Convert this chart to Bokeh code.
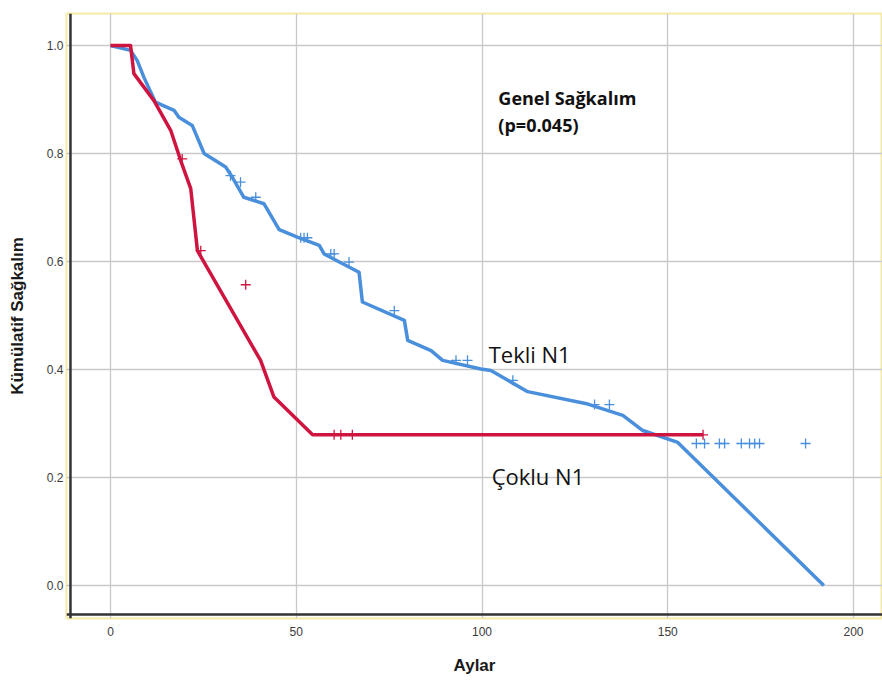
from bokeh.plotting import figure
from bokeh.models import Range1d, FixedTicker, NumeralTickFormatter, Span, Label
from bokeh.embed import file_html
from bokeh.resources import INLINE

# ---- data ----
tekli_months = [0, 5.4, 7.2, 9.0, 12.1, 17.1, 18.4, 22.0, 25.2, 31.0, 32.8, 35.9, 41.3, 45.4,
                50.3, 56.2, 57.5, 61.6, 66.9, 67.8, 79.1, 80.0, 86.3, 89.4, 99.7, 102.4,
                112.3, 128.5, 137.9, 143.3, 152.7, 192.0]
tekli_surv = [1.0, 0.991, 0.972, 0.941, 0.895, 0.880, 0.867, 0.852, 0.800, 0.775, 0.756, 0.719,
              0.707, 0.659, 0.645, 0.630, 0.614, 0.599, 0.580, 0.525, 0.491, 0.454, 0.435,
              0.417, 0.401, 0.398, 0.359, 0.336, 0.315, 0.287, 0.265, 0.0]
tekli_cens_months = [32.3, 35.0, 39.1, 51.2, 52.1, 53.0, 59.3, 60.2, 64.2, 76.4, 93.0, 96.1,
                     108.3, 130.3, 134.3, 157.7, 159.9, 163.9, 165.3, 169.8, 172.0, 173.4,
                     174.7, 187.1]
tekli_cens_surv = [0.759, 0.747, 0.719, 0.644, 0.644, 0.644, 0.614, 0.614, 0.599, 0.509, 0.417,
                   0.417, 0.380, 0.335, 0.335, 0.263, 0.263, 0.263, 0.263, 0.263, 0.263, 0.263,
                   0.263, 0.263]

coklu_months = [0, 5.4, 6.3, 11.7, 16.2, 18.9, 21.6, 23.4, 40.4, 44.0, 54.4, 159.5]
coklu_surv = [1.0, 1.0, 0.948, 0.898, 0.843, 0.787, 0.735, 0.620, 0.417, 0.349, 0.279, 0.279]
coklu_cens_months = [19.3, 24.3, 36.4, 60.2, 62.0, 65.1, 159.5]
coklu_cens_surv = [0.790, 0.620, 0.557, 0.279, 0.279, 0.279, 0.279]

x_ticks = [0, 50, 100, 150, 200]
y_ticks = [0.0, 0.2, 0.4, 0.6, 0.8, 1.0]

BLUE = "#4a8fdb"
RED = "#cf1440"

p = figure(width=882, height=682, x_range=Range1d(-11.84, 207.8),
           y_range=Range1d(-0.0611, 1.0593), output_backend="svg",
           toolbar_location=None, min_border_left=66, min_border_top=13,
           min_border_bottom=64, min_border_right=0)

p.background_fill_color = "white"
p.border_fill_color = "white"
p.outline_line_color = "#f4eaa8"
p.outline_line_width = 2

p.xgrid.grid_line_color = "#c9c9c9"
p.ygrid.grid_line_color = "#c9c9c9"
p.xgrid.grid_line_width = 1.3
p.ygrid.grid_line_width = 1.3

p.xaxis.ticker = FixedTicker(ticks=x_ticks)
p.yaxis.ticker = FixedTicker(ticks=y_ticks)
p.yaxis.formatter = NumeralTickFormatter(format="0.0")
for ax in (p.xaxis, p.yaxis):
    ax.axis_line_color = None
    ax.major_tick_line_color = None
    ax.minor_tick_line_color = None
    ax.major_tick_out = 0
    ax.major_tick_in = 0
    ax.major_label_text_font = "Liberation Sans"
    ax.major_label_text_font_size = "12px"
    ax.major_label_text_color = "#3a3a3a"
    ax.axis_label_text_font = "Liberation Sans"
    ax.axis_label_text_font_style = "bold"
    ax.axis_label_text_color = "#1a1a1a"

p.xaxis.axis_label = "Aylar"
p.yaxis.axis_label = "Kümülatif Sağkalım"
p.xaxis.axis_label_text_font_size = "17px"
p.yaxis.axis_label_text_font_size = "17px"
p.xaxis.major_label_standoff = 8
p.yaxis.major_label_standoff = 3
p.xaxis.axis_label_standoff = 17
p.yaxis.axis_label_standoff = 17

# axis lines drawn just inside the frame
p.add_layout(Span(location=-10.77, dimension="height", line_color="#333333", line_width=2.5))
p.add_layout(Span(location=-0.0537, dimension="width", line_color="#333333", line_width=2.5))

p.line(tekli_months, tekli_surv, line_color=BLUE, line_width=3.5, line_join="round")
p.line(coklu_months, coklu_surv, line_color=RED, line_width=3.5, line_join="round")
p.scatter(tekli_cens_months, tekli_cens_surv, marker="cross", size=10,
          line_color=BLUE, line_width=1.3)
p.scatter(coklu_cens_months, coklu_cens_surv, marker="cross", size=10,
          line_color=RED, line_width=1.3)

p.add_layout(Label(x=104.4, y=0.9028, text="Genel Sağkalım", text_font="Open Sans",
                   text_font_style="bold", text_font_size="18px", text_color="#111111",
                   text_baseline="alphabetic"))
p.add_layout(Label(x=104.4, y=0.8537, text="(p=0.045)", text_font="Open Sans",
                   text_font_style="bold", text_font_size="18px", text_color="#111111",
                   text_baseline="alphabetic"))
p.add_layout(Label(x=101.8, y=0.429, text="Tekli N1", text_font="Open Sans",
                   text_font_size="22px", text_color="#111111", text_baseline="alphabetic"))
p.add_layout(Label(x=102.6, y=0.2037, text="Çoklu N1", text_font="Open Sans",
                   text_font_size="22px", text_color="#111111", text_baseline="alphabetic"))

open("out.html", "w").write(file_html(p, INLINE))
